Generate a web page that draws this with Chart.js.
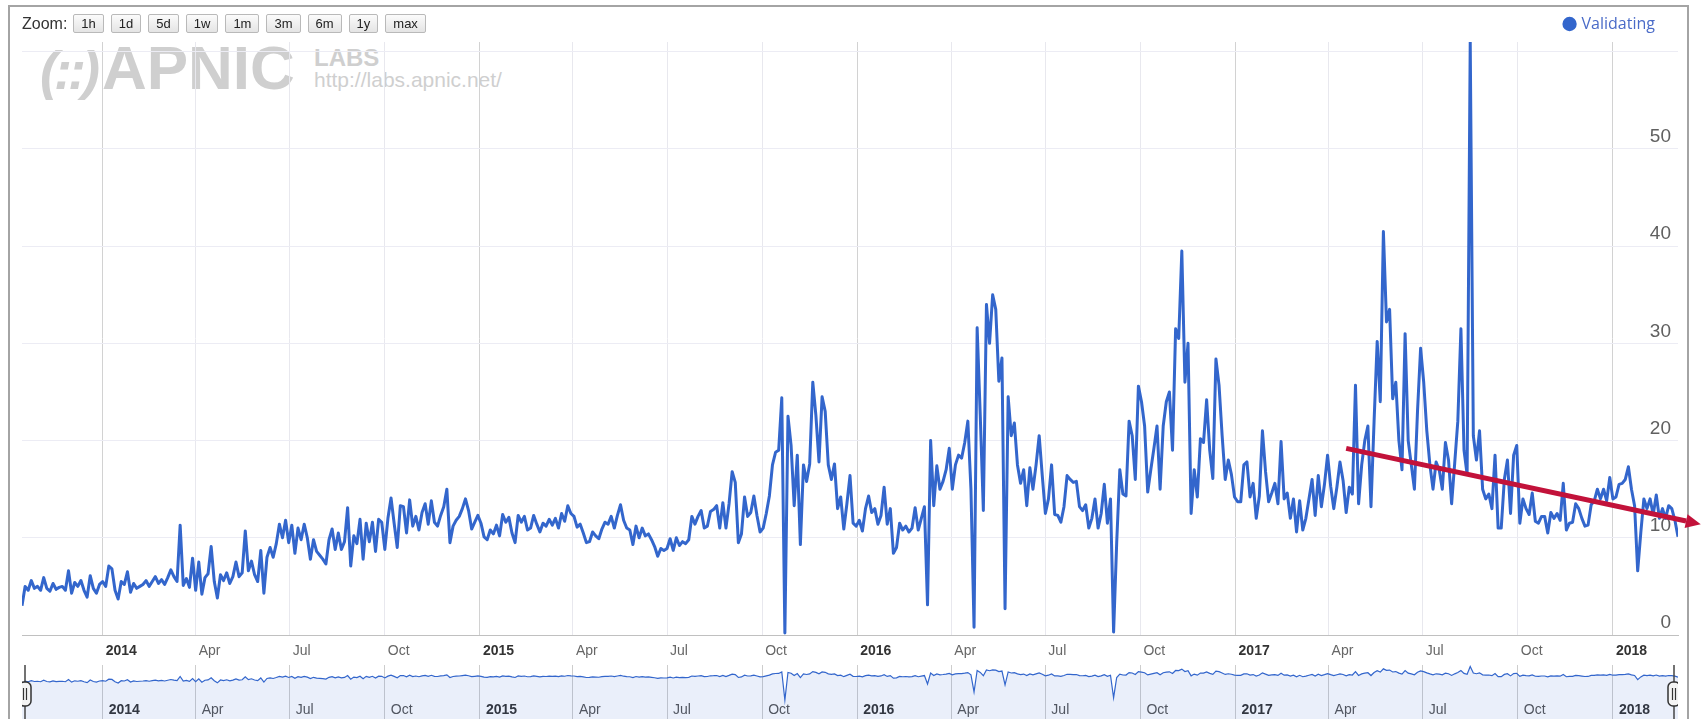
<!DOCTYPE html>
<html>
<head>
<meta charset="utf-8">
<title>Validating</title>
<script src="https://cdn.jsdelivr.net/npm/chart.js@4.4.1/dist/chart.umd.min.js"></script>
<style>
  html, body { margin: 0; padding: 0; background: #fff; }
  body { width: 1702px; height: 719px; overflow: hidden; position: relative; font-family: "Liberation Sans", Arial, sans-serif; }
  #frame { position: absolute; left: 8px; top: 5px; width: 1681px; height: 740px; border: 2px solid #a4a4a4; box-sizing: border-box; }
  #watermark { position: absolute; left: 0; top: 0; color: #cfcfcf; white-space: nowrap; }
  #watermark .logo { position: absolute; left: 40px; top: 37px; font: bold 62px/62px "Liberation Sans", Arial, sans-serif; }
  #watermark .logo i { font-size: 54px; letter-spacing: -4px; margin-right: 6px; }
  #watermark .labs { position: absolute; left: 314px; top: 46px; font: bold 24px/24px "Liberation Sans", Arial, sans-serif; }
  #watermark .url { position: absolute; left: 314px; top: 69px; font: 21px/21px "Liberation Sans", Arial, sans-serif; }
  #mainChart { position: absolute; left: 0; top: 0; }
  #navChart { position: absolute; left: 22px; top: 665px; }
  #zoomBar { position: absolute; left: 22px; top: 14px; display: flex; align-items: center; gap: 7px; }
  #zoomBar span { font-size: 16px; color: #333; margin-right: -1px; }
  #zoomBar button { height: 19px; padding: 0 7px; font: 13px "Liberation Sans", Arial, sans-serif; color: #222;
    background: linear-gradient(#fbfbfb, #e4e4e4); border: 1px solid #b9b9b9; border-radius: 2px; }
</style>
</head>
<body>
<div id="frame"></div>
<div id="watermark">
  <div class="logo"><i>(::)</i>APNIC</div>
  <div class="labs">LABS</div>
  <div class="url">http://labs.apnic.net/</div>
</div>
<canvas id="mainChart" width="1702" height="719"></canvas>
<canvas id="navChart" width="1656" height="58"></canvas>
<div id="zoomBar">
  <span>Zoom:</span><button>1h</button><button>1d</button><button>5d</button><button>1w</button><button>1m</button><button>3m</button><button>6m</button><button>1y</button><button>max</button>
</div>
<script>
const startDate = '2013-10-15';
const stepDays = 3;
const validating = [
  3.0, 5.0, 4.6, 5.6, 4.8, 5.0, 4.6, 5.9, 4.8, 4.5, 5.3, 4.7, 4.9, 5.0, 4.6, 6.6, 4.3, 5.4, 5.0, 5.6, 4.6, 3.9, 6.1, 4.8, 4.3, 5.2,
  5.5, 5.0, 7.1, 6.8, 4.6, 3.7, 5.5, 5.2, 6.5, 4.4, 5.3, 4.8, 5.0, 5.2, 5.6, 5.0, 5.5, 6.0, 5.3, 5.7, 5.2, 5.9, 6.7, 6.0, 5.5,
  11.3, 5.1, 5.8, 4.9, 7.9, 4.6, 7.5, 4.2, 5.9, 6.3, 9.1, 5.5, 3.8, 6.2, 5.6, 6.4, 5.3, 6.0, 7.5, 6.0, 6.4,
  10.7, 6.6, 7.6, 6.2, 5.5, 8.7, 4.3, 8.0, 9.0, 8.0, 9.4, 11.4, 10.0, 11.8, 9.5, 11.3, 8.4, 11.0, 9.8, 11.4, 10.0,
  7.8, 9.8, 8.6, 8.2, 7.8, 7.3, 9.8, 10.9, 8.8, 10.5,
  8.8, 9.6, 13.1, 7.1, 10.2, 9.4, 11.9, 7.8, 11.5, 9.6,
  11.6, 8.6, 11.9, 11.6, 8.8, 12.0, 14.1, 11.5, 9.0, 13.3,
  13.2, 10.5, 13.9, 11.2, 12.2, 10.8, 12.6, 13.5, 11.4, 13.8,
  11.6, 11.2, 12.3, 13.2, 15.0, 9.5, 11.2, 11.8, 12.2, 13.0,
  14.0, 12.8, 10.9, 11.6, 12.3, 11.5, 10.1, 9.8, 10.8, 10.4,
  11.3, 10.2, 12.4, 11.6, 12.1, 10.5, 9.5, 12.3, 11.6, 12.2,
  10.8, 11.0, 12.3, 11.4, 10.6, 11.5, 11.2, 11.9, 11.3, 12.0,
  11.0, 12.5, 11.7, 13.3, 12.5, 12.2, 11.1, 11.4, 10.5, 9.5,
  9.6, 10.6, 10.2, 9.9, 10.9, 11.6, 11.4, 12.2, 11.0, 12.3,
  13.4, 11.8, 11.0, 10.8, 9.3, 11.2, 10.0, 11.0, 10.2, 10.4,
  9.8, 9.1, 8.1, 8.9, 8.7, 8.9, 9.9, 8.7, 10.0, 9.2,
  9.6, 9.4, 9.8, 12.2, 11.4, 12.2, 12.8, 11.0, 11.2, 12.7,
  12.9, 13.3, 11.0, 13.6, 11.0, 13.5, 16.8, 15.7, 9.5, 10.4,
  14.2, 12.2, 12.6, 14.3, 12.3, 10.6, 11.0, 12.5, 14.3, 17.5,
  18.8, 19.0, 24.4, 0.2, 22.5, 19.5, 13.3, 18.5, 9.3, 17.5,
  15.8, 17.6, 26.0, 22.6, 17.8, 24.5, 23.0, 17.5, 16.0, 17.6,
  13.0, 14.2, 10.9, 13.5, 16.4, 11.5, 11.2, 11.8, 10.7, 13.0, 14.3,
  12.6, 13.0, 11.4, 12.3, 15.2, 11.4, 13.0, 8.4, 9.0, 11.5,
  10.8, 11.2, 10.6, 11.0, 13.1, 10.8, 12.0, 13.2, 3.1, 20.0,
  13.3, 17.4, 15.0, 15.8, 17.0, 19.2, 15.0, 17.5, 18.5, 18.2,
  19.8, 22.0, 15.0, 0.8, 31.6, 22.6, 12.8, 34.0, 30.0, 35.0,
  33.5, 26.1, 28.5, 2.7, 24.5, 20.5, 21.8, 17.5, 15.6, 17.0,
  13.3, 17.2, 15.0, 17.5, 20.5, 16.4, 12.5, 14.0, 17.5, 12.4,
  12.3, 11.6, 13.2, 16.4, 16.0, 15.7, 15.8, 13.2, 12.8, 13.4,
  11.0, 12.0, 14.0, 11.0, 12.5, 15.5, 11.5, 14.0, 0.3, 9.5,
  17.0, 14.5, 14.3, 22.0, 20.5, 16.0, 25.6, 24.0, 21.5, 14.7,
  17.0, 19.2, 21.5, 15.0, 21.5, 24.0, 25.0, 19.0, 31.5, 30.5,
  39.5, 26.0, 30.0, 12.5, 17.0, 14.2, 20.2, 19.8, 24.2, 19.0,
  16.1, 28.4, 25.7, 20.5, 16.0, 18.0, 16.5, 14.2, 13.7, 13.7,
  17.5, 17.8, 14.2, 15.6, 12.0, 14.3, 21.0, 16.8, 13.7, 14.6,
  15.6, 13.5, 19.9, 14.0, 14.6, 12.0, 14.0, 10.6, 13.8, 10.8,
  12.0, 14.0, 16.0, 12.3, 16.4, 13.2, 15.5, 18.5, 15.3, 13.0,
  15.2, 17.8, 15.9, 12.6, 15.2, 14.5, 25.7, 13.5, 17.5, 20.0,
  21.5, 13.2, 22.0, 30.2, 24.0, 41.5, 32.2, 33.5, 24.3, 26.0,
  20.0, 17.0, 31.0, 20.0, 17.5, 15.0, 23.0, 29.5, 26.0, 21.0, 17.5,
  15.0, 17.8, 17.0, 15.0, 19.8, 18.0, 13.5, 17.7, 22.0, 31.5,
  19.0, 16.5, 61.0, 20.5, 18.0, 21.0, 15.0, 14.0, 14.5, 13.0,
  18.5, 11.0, 11.0, 16.0, 18.0, 12.5, 18.5, 19.5, 11.5, 14.0,
  13.0, 12.4, 14.6, 11.7, 11.5, 12.2, 12.2, 10.5, 12.6, 12.0,
  12.5, 11.8, 15.6, 10.8, 11.5, 11.6, 13.5, 13.0, 12.0, 11.2,
  11.3, 13.4, 13.8, 15.0, 14.0, 15.0, 13.8, 16.2, 14.0, 14.2,
  15.5, 15.6, 16.0, 17.3, 15.0, 13.3, 6.6, 10.5, 14.0, 13.0,
  14.0, 12.4, 14.4, 12.0, 13.0, 12.0, 13.3, 13.0, 11.8, 10.1
];
const yTicks = [0, 10, 20, 30, 40, 50, 60];
const quarterMonths = [0, 3, 6, 9];
const monthNames = ['Jan', 'Apr', 'Jul', 'Oct'];
// red trend arrow, in data coordinates
const trendFrom = ['2017-04-18', 19.2];
const trendTo = ['2018-03-27', 11.4];

const DAY = 86400000;
const t0 = Date.parse(startDate);
const points = validating.map((v, i) => ({ x: t0 + i * stepDays * DAY, y: v }));
const xMin = points[0].x;
const xMax = points[points.length - 1].x;

const quarterTicks = [];
for (let yr = 2013; yr <= 2018; yr++) {
  for (const m of quarterMonths) {
    const t = Date.UTC(yr, m, 1);
    if (t >= xMin && t <= xMax) quarterTicks.push(t);
  }
}

function isYearTick(t) {
  return new Date(t).getUTCMonth() === 0;
}
function tickName(t) {
  const d = new Date(t);
  const m = d.getUTCMonth();
  return m === 0 ? String(d.getUTCFullYear()) : monthNames[quarterMonths.indexOf(m)];
}
// scriptable options get called without a tick sometimes
const yearCtx = c => !!(c && c.tick && isYearTick(c.tick.value));

const trendArrow = {
  id: 'trendArrow',
  afterDatasetsDraw(chart) {
    const { ctx, scales: { x, y } } = chart;
    const x1 = x.getPixelForValue(Date.parse(trendFrom[0]));
    const y1 = y.getPixelForValue(trendFrom[1]);
    const x2 = x.getPixelForValue(Date.parse(trendTo[0]));
    const y2 = y.getPixelForValue(trendTo[1]);
    const ang = Math.atan2(y2 - y1, x2 - x1);
    const head = 15, half = 7;
    const cos = Math.cos(ang), sin = Math.sin(ang);
    ctx.save();
    ctx.strokeStyle = '#c2123a';
    ctx.fillStyle = '#c2123a';
    ctx.lineWidth = 5;
    ctx.beginPath();
    ctx.moveTo(x1, y1);
    ctx.lineTo(x2 - head * cos, y2 - head * sin);
    ctx.stroke();
    ctx.beginPath();
    ctx.moveTo(x2, y2);
    ctx.lineTo(x2 - head * cos + half * sin, y2 - head * sin - half * cos);
    ctx.lineTo(x2 - head * cos - half * sin, y2 - head * sin + half * cos);
    ctx.closePath();
    ctx.fill();
    ctx.restore();
  }
};

// move the legend item a bit away from the right edge
const legendNudge = {
  id: 'legendNudge',
  afterLayout(chart) {
    chart.legend.right -= 15;
  }
};

const navHandles = {
  id: 'navHandles',
  afterDraw(chart) {
    const { ctx, chartArea: a } = chart;
    const hy = 29;
    [a.left + 3, a.right - 4].forEach(hx => {
      ctx.save();
      ctx.strokeStyle = '#444';
      ctx.lineWidth = 1.5;
      ctx.beginPath();
      ctx.moveTo(hx, a.top);
      ctx.lineTo(hx, a.bottom);
      ctx.stroke();
      ctx.beginPath();
      ctx.roundRect(hx - 6, hy - 12, 12, 24, 5);
      ctx.fillStyle = '#f4f4f4';
      ctx.fill();
      ctx.strokeStyle = '#333';
      ctx.stroke();
      ctx.lineWidth = 1.2;
      ctx.beginPath();
      ctx.moveTo(hx - 1.5, hy - 6); ctx.lineTo(hx - 1.5, hy + 6);
      ctx.moveTo(hx + 1.5, hy - 6); ctx.lineTo(hx + 1.5, hy + 6);
      ctx.stroke();
      ctx.restore();
    });
  }
};

const xTickFont = size => c => ({
  family: '"Liberation Sans", Arial, sans-serif',
  size: size,
  weight: yearCtx(c) ? 'bold' : 'normal'
});

new Chart(document.getElementById('mainChart'), {
  type: 'line',
  data: {
    datasets: [{
      label: 'Validating',
      data: points,
      borderColor: '#3366cc',
      backgroundColor: '#3366cc',
      borderWidth: 3,
      pointRadius: 0,
      pointHoverRadius: 0,
      tension: 0,
      borderJoinStyle: 'round',
      fill: false
    }]
  },
  options: {
    responsive: false,
    animation: false,
    events: [],
    layout: { padding: { left: 22, right: 24, top: 8, bottom: 54 } },
    plugins: {
      legend: {
        position: 'top',
        align: 'end',
        labels: {
          usePointStyle: true,
          pointStyle: 'circle',
          boxWidth: 8,
          boxHeight: 8,
          padding: 8,
          color: '#4a6bc8',
          font: { family: '"Open Sans", sans-serif', size: 16 }
        }
      },
      tooltip: { enabled: false }
    },
    scales: {
      x: {
        type: 'linear',
        min: xMin,
        max: xMax,
        afterBuildTicks: ax => { ax.ticks = quarterTicks.map(v => ({ value: v })); },
        afterFit: ax => { ax.height = 30; },
        ticks: {
          autoSkip: false,
          maxRotation: 0,
          align: 'start',
          labelOffset: 3,
          padding: 8,
          callback: v => tickName(v),
          color: c => yearCtx(c) ? '#333' : '#666',
          font: xTickFont(14)
        },
        grid: {
          color: c => yearCtx(c) ? '#d2d2d2' : '#e8e8ee',
          drawTicks: false
        },
        border: { display: true, color: '#c0c0c0' }
      },
      y: {
        position: 'right',
        min: 0,
        max: 61,
        afterBuildTicks: ax => { ax.ticks = yTicks.map(v => ({ value: v })); },
        afterFit: ax => { ax.width = 0; },
        ticks: {
          mirror: true,
          padding: -7,
          labelOffset: -12,
          color: '#606060',
          font: { family: '"Liberation Sans", Arial, sans-serif', size: 19 },
          callback: v => v === 60 ? '' : String(v)
        },
        grid: {
          color: c => (c && c.tick && c.tick.value === 0) ? '#c0c0c0' : '#ececf4',
          drawTicks: false
        },
        border: { display: false }
      }
    }
  },
  plugins: [trendArrow, legendNudge]
});

// navigator strip under the main chart
new Chart(document.getElementById('navChart'), {
  type: 'line',
  data: {
    datasets: [{
      data: points,
      borderColor: '#3366cc',
      backgroundColor: 'rgba(51, 102, 204, 0.1)',
      borderWidth: 1.2,
      pointRadius: 0,
      tension: 0,
      fill: 'start'
    }]
  },
  options: {
    responsive: false,
    animation: false,
    events: [],
    layout: { padding: 0 },
    plugins: { legend: { display: false }, tooltip: { enabled: false } },
    scales: {
      x: {
        type: 'linear',
        min: xMin,
        max: xMax,
        afterBuildTicks: ax => { ax.ticks = quarterTicks.map(v => ({ value: v })); },
        afterFit: ax => { ax.height = 0; },
        ticks: {
          autoSkip: false,
          maxRotation: 0,
          mirror: true,
          align: 'start',
          labelOffset: 6,
          padding: 4,
          callback: v => tickName(v),
          color: c => yearCtx(c) ? '#333' : '#555',
          font: xTickFont(14)
        },
        grid: { color: '#cdcdcd', drawTicks: false },
        border: { display: false }
      },
      y: { type: 'logarithmic', display: false, min: 0.004, max: 80 }
    }
  },
  plugins: [navHandles]
});
</script>
</body>
</html>
